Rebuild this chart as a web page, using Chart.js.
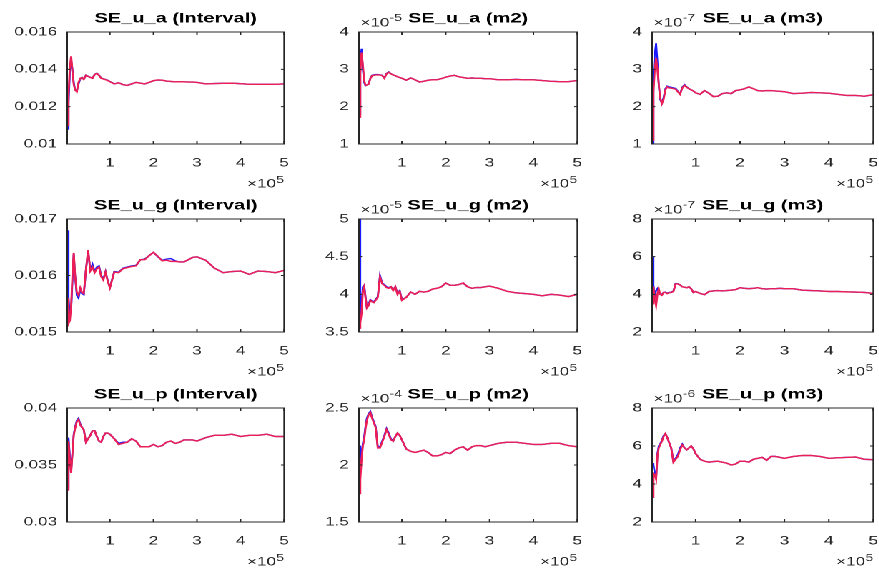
<!DOCTYPE html>
<html><head><meta charset="utf-8">
<script src="https://cdn.jsdelivr.net/npm/chart.js@4/dist/chart.umd.min.js"></script>
<style>
html,body{margin:0;padding:0;background:#fff;overflow:hidden;width:879px;height:571px;}
#wrap{position:absolute;left:0;top:0;width:615px;height:571px;transform:scaleX(1.43);transform-origin:0 0;}
#wrap canvas{position:absolute;}
</style></head><body><div id="wrap"></div>
<script>
// ---------- data ----------
const xValues = [2000,5000,8000,11000,14000,17000,20000,24000,28000,32000,36000,40000,
  45000,50000,55000,60000,65000,70000,75000,80000,85000,90000,95000,100000,
  110000,120000,130000,140000,150000,160000,170000,180000,190000,200000,210000,220000,230000,240000,250000,260000,270000,280000,290000,300000,
  320000,340000,360000,380000,400000,420000,440000,460000,480000,500000];

const ua_int_red = [0.0110,0.0126,0.0141,0.0147,0.0139,0.0132,0.0129,0.0128,0.0133,0.01352,0.01356,0.01346,
  0.01368,0.01362,0.01356,0.01352,0.01372,0.01378,0.01368,0.01352,0.01348,0.01345,0.0134,0.01334,
  0.01322,0.01328,0.01318,0.01314,0.01322,0.0133,0.01326,0.01322,0.0133,0.01339,0.01343,0.01342,0.01337,0.01335,0.01333,0.01334,0.01333,0.01332,0.01332,0.0133,
  0.01322,0.01324,0.01325,0.01326,0.01323,0.0132,0.0132,0.0132,0.0132,0.01322];
const ua_int_blue = [0.0108,0.0122,0.0138,0.0145,0.0140,0.0133,0.0129,0.01285,0.0132,0.0135,0.01357,0.01347,
  0.01369,0.01363,0.01357,0.01353,0.01373,0.01379,0.01369,0.01353,0.01349,0.01346,0.01341,0.01335,
  0.01322,0.01328,0.01318,0.01314,0.01322,0.0133,0.01326,0.01322,0.0133,0.01339,0.01343,0.01342,0.01337,0.01335,0.01333,0.01334,0.01333,0.01332,0.01332,0.0133,
  0.01322,0.01324,0.01325,0.01326,0.01323,0.0132,0.0132,0.0132,0.0132,0.01322];

const ua_m2_red = [1.72,2.9,3.45,3.1,2.7,2.57,2.58,2.6,2.75,2.83,2.84,2.85,
  2.85,2.85,2.83,2.76,2.88,2.92,2.88,2.85,2.83,2.8,2.78,2.76,
  2.71,2.77,2.72,2.66,2.68,2.71,2.72,2.72,2.75,2.79,2.82,2.84,2.8,2.78,2.76,2.77,2.76,2.76,2.75,2.75,
  2.72,2.72,2.73,2.72,2.72,2.7,2.68,2.67,2.67,2.7];
const ua_m2_blue = [1.8,3.2,3.55,3.0,2.65,2.56,2.58,2.61,2.76,2.84,2.85,2.86,
  2.86,2.85,2.84,2.77,2.89,2.93,2.88,2.85,2.83,2.8,2.78,2.76,
  2.71,2.77,2.72,2.66,2.68,2.71,2.72,2.72,2.75,2.79,2.82,2.84,2.8,2.78,2.76,2.77,2.76,2.76,2.75,2.75,
  2.72,2.72,2.73,2.72,2.72,2.7,2.68,2.67,2.67,2.7];

const ua_m3_red = [1.1,2.4,3.0,3.3,3.0,2.6,2.25,2.08,2.2,2.45,2.53,2.5,
  2.5,2.48,2.47,2.4,2.33,2.5,2.57,2.52,2.48,2.45,2.42,2.37,
  2.33,2.43,2.36,2.27,2.28,2.35,2.37,2.35,2.43,2.45,2.48,2.53,2.48,2.43,2.42,2.43,2.43,2.42,2.41,2.4,
  2.35,2.36,2.38,2.37,2.36,2.33,2.3,2.3,2.28,2.32];
const ua_m3_blue = [1.0,2.8,3.4,3.7,3.2,2.6,2.2,2.1,2.25,2.48,2.55,2.53,
  2.52,2.5,2.49,2.41,2.34,2.52,2.59,2.53,2.48,2.45,2.42,2.37,
  2.33,2.43,2.36,2.27,2.28,2.35,2.37,2.35,2.43,2.45,2.48,2.53,2.48,2.43,2.42,2.43,2.43,2.42,2.41,2.4,
  2.35,2.36,2.38,2.37,2.36,2.33,2.3,2.3,2.28,2.32];

const ug_int_red = [0.0156,0.01515,0.0152,0.01545,0.0160,0.0164,0.0160,0.0157,0.01565,0.01578,0.0157,0.01568,
  0.0161,0.01645,0.01608,0.01615,0.01605,0.01612,0.01615,0.01598,0.01592,0.01606,0.0159,0.01578,
  0.01606,0.01605,0.01612,0.01614,0.01616,0.01617,0.01628,0.01628,0.01635,0.01641,0.01634,0.01626,0.01627,0.01625,0.01625,0.01624,0.01624,0.01628,0.01632,0.01633,
  0.01627,0.01613,0.01605,0.01607,0.01608,0.01602,0.01608,0.01607,0.01605,0.01609];
const ug_int_blue = [0.0168,0.0156,0.01532,0.0154,0.0159,0.01638,0.0160,0.01565,0.0156,0.01575,0.01568,0.01566,
  0.0161,0.01643,0.0161,0.0162,0.01607,0.01615,0.01617,0.016,0.01594,0.01607,0.01591,0.01579,
  0.01607,0.01606,0.01613,0.01615,0.01617,0.01618,0.01628,0.01629,0.01635,0.01641,0.01633,0.01627,0.01629,0.0163,0.01626,0.01624,0.01624,0.01628,0.01632,0.01633,
  0.01627,0.01613,0.01605,0.01607,0.01608,0.01602,0.01608,0.01607,0.01605,0.01609];

const ug_m2_red = [3.55,3.62,3.75,4.05,4.1,3.95,3.82,3.85,3.92,3.9,3.89,3.92,
  3.96,4.23,4.14,4.12,4.09,4.08,4.1,4.05,4.1,4.0,4.04,3.92,
  3.96,4.03,4.0,4.04,4.03,4.04,4.07,4.08,4.1,4.15,4.12,4.12,4.13,4.15,4.1,4.08,4.09,4.09,4.1,4.11,
  4.08,4.04,4.02,4.01,4.0,3.98,4.0,3.99,3.97,4.0];
const ug_m2_blue = [5.0,3.7,3.85,4.1,4.12,3.97,3.83,3.87,3.93,3.91,3.9,3.93,
  3.97,4.25,4.15,4.13,4.1,4.09,4.1,4.06,4.1,4.01,4.05,3.93,
  3.96,4.03,4.0,4.04,4.03,4.04,4.07,4.08,4.1,4.15,4.12,4.12,4.13,4.15,4.1,4.08,4.09,4.09,4.1,4.11,
  4.08,4.04,4.02,4.01,4.0,3.98,4.0,3.99,3.97,4.0];

const ug_m3_red = [3.5,4.4,3.8,3.4,4.0,4.3,4.0,3.95,4.1,4.1,4.04,4.08,
  4.1,4.15,4.55,4.55,4.5,4.4,4.38,4.35,4.4,4.3,4.1,4.15,
  4.05,3.98,4.15,4.18,4.2,4.18,4.2,4.22,4.25,4.35,4.32,4.3,4.32,4.35,4.3,4.28,4.3,4.3,4.32,4.3,
  4.3,4.22,4.2,4.18,4.15,4.15,4.13,4.12,4.1,4.05];
const ug_m3_blue = [6.0,4.5,3.9,4.2,4.3,4.1,4.0,4.0,4.1,4.12,4.06,4.1,
  4.12,4.17,4.57,4.56,4.5,4.4,4.38,4.35,4.4,4.3,4.1,4.15,
  4.05,3.98,4.15,4.18,4.2,4.18,4.2,4.22,4.25,4.35,4.32,4.3,4.32,4.35,4.3,4.28,4.3,4.3,4.32,4.3,
  4.3,4.22,4.2,4.18,4.15,4.15,4.13,4.12,4.1,4.05];

const up_int_red = [0.0328,0.0371,0.0355,0.0343,0.0360,0.0376,0.0382,0.0388,0.0390,0.0385,0.0383,0.0381,
  0.0370,0.0373,0.0376,0.0380,0.0380,0.0375,0.0371,0.0370,0.0375,0.0378,0.0378,0.0377,
  0.0373,0.0368,0.0369,0.0370,0.0373,0.0371,0.0366,0.0366,0.0366,0.0368,0.0366,0.0367,0.0370,0.0371,0.0369,0.0370,0.0372,0.0372,0.0372,0.0371,
  0.0374,0.0376,0.0376,0.0377,0.0375,0.0376,0.0376,0.0377,0.0375,0.0375];
const up_int_blue = [0.0330,0.0374,0.0358,0.0345,0.0361,0.0377,0.0383,0.0389,0.0391,0.0386,0.0383,0.0381,
  0.0370,0.0373,0.0376,0.0380,0.0380,0.0375,0.0371,0.0370,0.0375,0.0378,0.0378,0.0377,
  0.0373,0.0369,0.0370,0.0370,0.0373,0.0371,0.0366,0.0366,0.0366,0.0368,0.0366,0.0367,0.0370,0.0371,0.0369,0.0370,0.0372,0.0372,0.0372,0.0371,
  0.0374,0.0376,0.0376,0.0377,0.0375,0.0376,0.0376,0.0377,0.0375,0.0375];

const up_m2_red = [1.75,1.87,2.05,2.17,2.22,2.32,2.39,2.44,2.46,2.41,2.37,2.33,
  2.15,2.15,2.2,2.25,2.31,2.27,2.22,2.21,2.25,2.28,2.26,2.22,
  2.14,2.12,2.11,2.12,2.13,2.11,2.08,2.08,2.09,2.11,2.1,2.13,2.15,2.16,2.13,2.16,2.17,2.17,2.16,2.17,
  2.19,2.2,2.2,2.19,2.18,2.18,2.19,2.19,2.17,2.16];
const up_m2_blue = [2.17,1.95,2.1,2.19,2.25,2.34,2.41,2.45,2.47,2.42,2.38,2.34,
  2.16,2.16,2.21,2.26,2.32,2.28,2.23,2.21,2.25,2.28,2.26,2.22,
  2.14,2.12,2.11,2.12,2.13,2.11,2.08,2.08,2.09,2.11,2.1,2.13,2.15,2.16,2.13,2.16,2.17,2.17,2.16,2.17,
  2.19,2.2,2.2,2.19,2.18,2.18,2.19,2.19,2.17,2.16];

const up_m3_red = [3.3,4.55,4.5,4.25,5.5,5.9,6.05,6.25,6.5,6.65,6.45,6.2,
  5.9,5.15,5.3,5.45,5.8,6.05,5.9,5.8,5.9,6.0,5.85,5.6,
  5.3,5.2,5.15,5.18,5.2,5.15,5.1,5.0,5.05,5.2,5.2,5.15,5.3,5.35,5.4,5.25,5.45,5.45,5.4,5.35,
  5.45,5.5,5.5,5.45,5.35,5.38,5.4,5.42,5.3,5.28];
const up_m3_blue = [5.1,5.0,4.6,4.3,5.6,6.0,6.1,6.3,6.55,6.65,6.45,6.2,
  5.9,5.2,5.35,5.55,5.9,6.1,5.9,5.8,5.9,6.0,5.85,5.6,
  5.3,5.2,5.15,5.18,5.2,5.15,5.1,5.0,5.05,5.2,5.2,5.15,5.3,5.35,5.4,5.25,5.45,5.45,5.4,5.35,
  5.45,5.5,5.5,5.45,5.35,5.38,5.4,5.42,5.3,5.28];

const panelTitles = ['SE_u_a (Interval)','SE_u_a (m2)','SE_u_a (m3)',
  'SE_u_g (Interval)','SE_u_g (m2)','SE_u_g (m3)',
  'SE_u_p (Interval)','SE_u_p (m2)','SE_u_p (m3)'];
const redSeries = [ua_int_red,ua_m2_red,ua_m3_red,ug_int_red,ug_m2_red,ug_m3_red,up_int_red,up_m2_red,up_m3_red];
const blueSeries = [ua_int_blue,ua_m2_blue,ua_m3_blue,ug_int_blue,ug_m2_blue,ug_m3_blue,up_int_blue,up_m2_blue,up_m3_blue];
const yExponents = [null,'-5','-7',null,'-5','-7',null,'-4','-6'];
const yTickValues = [[0.01,0.012,0.014,0.016],[1,2,3,4],[1,2,3,4],
  [0.015,0.016,0.017],[3.5,4,4.5,5],[2,4,6,8],
  [0.03,0.035,0.04],[1.5,2,2.5],[2,4,6,8]];
const yTickLabels = [['0.01','0.012','0.014','0.016'],['1','2','3','4'],['1','2','3','4'],
  ['0.015','0.016','0.017'],['3.5','4','4.5','5'],['2','4','6','8'],
  ['0.03','0.035','0.04'],['1.5','2','2.5'],['2','4','6','8']];
const xTickValues = [100000,200000,300000,400000,500000];
const xTickLabels = ['1','2','3','4','5'];
const xExponent = '5';

// ---------- layout (unscaled coordinates, page is stretched horizontally) ----------
const colLeft = [46.6, 251.0, 455.9];
const colWidth = [155, 156, 158];
const rowTop = [31.7, 219, 408];
const rowHeight = [112, 113, 114];
const PAD_L = 45, PAD_T = 32, PAD_R = 12, PAD_B = 50;
const FONT = '"Liberation Sans", Arial, Helvetica, sans-serif';
const AXIS = '#262626';
const RED = '#eb1e55', BLUE = '#1a1aff';

const panelPlugin = {
  id: 'panel',
  afterDraw(chart) {
    const p = chart.options.plugins.panel;
    const {ctx, chartArea: a, scales: {x, y}} = chart;
    ctx.save();
    ctx.strokeStyle = AXIS; ctx.lineWidth = 1;
    ctx.strokeRect(a.left, a.top, a.right - a.left, a.bottom - a.top);
    ctx.beginPath();
    x.ticks.forEach(t => {
      const px = x.getPixelForValue(t.value);
      ctx.moveTo(px, a.bottom); ctx.lineTo(px, a.bottom - 3);
      ctx.moveTo(px, a.top); ctx.lineTo(px, a.top + 3);
    });
    y.ticks.forEach(t => {
      const py = y.getPixelForValue(t.value);
      ctx.moveTo(a.left, py); ctx.lineTo(a.left + 2.2, py);
      ctx.moveTo(a.right, py); ctx.lineTo(a.right - 2.2, py);
    });
    ctx.stroke();
    // title
    ctx.fillStyle = '#000';
    ctx.font = 'bold 14px ' + FONT;
    ctx.textAlign = 'center'; ctx.textBaseline = 'middle';
    ctx.fillText(p.title, (a.left + a.right) / 2, a.top - 13.5);
    ctx.fillStyle = AXIS;
    // y exponent
    if (p.yExp) {
      ctx.textAlign = 'left';
      ctx.font = '12px ' + FONT;
      const base = '\u00d710';
      ctx.fillText(base, a.left + 1, a.top - 9);
      const w = ctx.measureText(base).width;
      ctx.font = '10px ' + FONT;
      ctx.fillText(p.yExp, a.left + 1 + w, a.top - 14);
    }
    // x exponent
    ctx.textAlign = 'right';
    ctx.font = '10px ' + FONT;
    ctx.fillText(p.xExp, a.right, a.bottom + 36);
    const ws = ctx.measureText(p.xExp).width;
    ctx.font = '12px ' + FONT;
    ctx.fillText('\u00d710', a.right - ws, a.bottom + 40);
    ctx.restore();
  }
};

const wrap = document.getElementById('wrap');
for (let i = 0; i < 9; i++) {
  const r = Math.floor(i / 3), c = i % 3;
  const cv = document.createElement('canvas');
  const W = colWidth[c] + PAD_L + PAD_R, H = rowHeight[r] + PAD_T + PAD_B;
  cv.width = W; cv.height = H;
  cv.style.left = (colLeft[c] - PAD_L) + 'px';
  cv.style.top = (rowTop[r] - PAD_T) + 'px';
  cv.style.width = W + 'px'; cv.style.height = H + 'px';
  wrap.appendChild(cv);
  const yt = yTickValues[i], yl = yTickLabels[i];
  new Chart(cv, {
    type: 'line',
    data: {
      datasets: [
        { data: xValues.map((xv, k) => ({x: xv, y: redSeries[i][k]})), borderColor: RED, borderWidth: 1.4, pointRadius: 0, tension: 0 },
        { data: xValues.map((xv, k) => ({x: xv, y: blueSeries[i][k]})), borderColor: BLUE, borderWidth: 1.3, pointRadius: 0, tension: 0 }
      ]
    },
    options: {
      responsive: false, animation: false, devicePixelRatio: 2,
      layout: { padding: { left: 0, top: PAD_T, right: PAD_R, bottom: 0 } },
      plugins: { legend: { display: false }, tooltip: { enabled: false },
        panel: { title: panelTitles[i], yExp: yExponents[i], xExp: xExponent } },
      scales: {
        x: {
          type: 'linear', min: xValues[0], max: xValues[xValues.length - 1],
          grid: { display: false, drawTicks: false }, border: { display: false },
          afterBuildTicks: s => { s.ticks = xTickValues.map(v => ({value: v})); },
          afterFit: s => { s.height = PAD_B; },
          ticks: { padding: 12, color: AXIS, font: { family: FONT, size: 12 }, maxRotation: 0, autoSkip: false,
            callback: (v, idx) => xTickLabels[idx] }
        },
        y: {
          type: 'linear', min: yt[0], max: yt[yt.length - 1],
          grid: { display: false, drawTicks: false }, border: { display: false },
          afterBuildTicks: s => { s.ticks = yt.map(v => ({value: v})); },
          afterFit: s => { s.width = PAD_L; },
          ticks: { padding: 7, color: AXIS, font: { family: FONT, size: 12 }, autoSkip: false,
            callback: (v, idx) => yl[idx] }
        }
      }
    },
    plugins: [panelPlugin]
  });
}
</script>
</body></html>
